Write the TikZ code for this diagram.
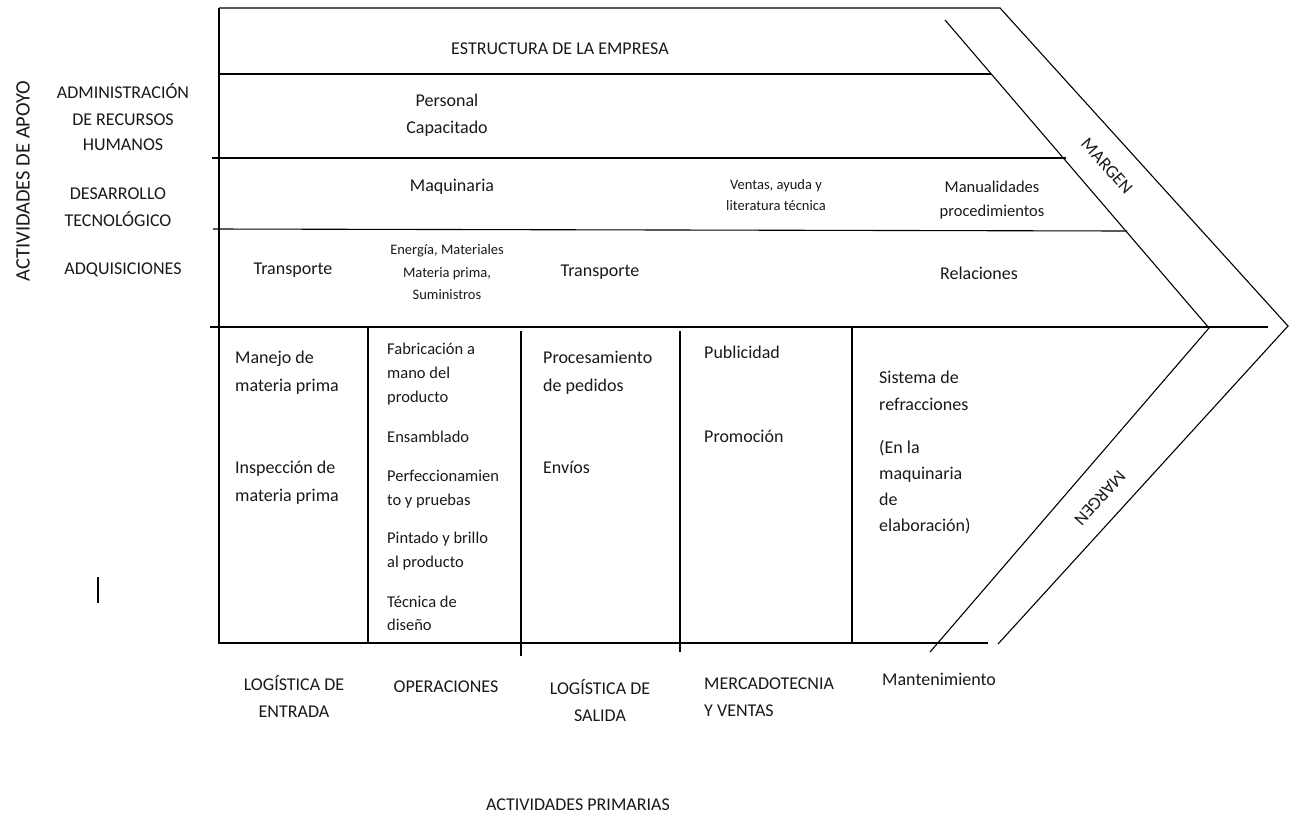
\documentclass[tikz,border=0pt]{standalone}
\usepackage{fontspec}
\setmainfont{Carlito}
\begin{document}
\begin{tikzpicture}[x=1pt,y=-1pt,
  ln/.style={line width=1.1pt,black},
  thk/.style={line width=2.6pt,black},
  t/.style={inner sep=0pt,anchor=base,font=\fontsize{18}{20}\selectfont,text=black!90},
  tl/.style={t,anchor=base west},
  tm/.style={inner sep=0pt,anchor=base west,font=\fontsize{16.5}{18}\selectfont,text=black!90},
  ts/.style={inner sep=0pt,anchor=base,font=\fontsize{14.5}{16}\selectfont,text=black!90},
  tsm/.style={inner sep=0pt,anchor=base,font=\fontsize{16.5}{18}\selectfont,text=black!90}]
\useasboundingbox (0,0) rectangle (1292,817);
% frame coordinates
\coordinate (tl) at (219,8);
\coordinate (tr) at (1000,8);
\coordinate (tip) at (1288,326);
\coordinate (br) at (998,644);
\coordinate (bl) at (219,643);
\coordinate (be) at (988,643);
\coordinate (ia) at (945,20);
\coordinate (itip) at (1209,328);
\coordinate (ib) at (930,652);
% outline
\draw[ln] (tl) -- (tr) -- (tip) -- (br);
\draw[ln] (tl) -- (bl) -- (be);
\draw[ln] (ia) -- (itip) -- (ib);
% support rows
\draw[ln] (219,74) -- (991,74);
\draw[ln] (212,158) -- (1066,158);
\draw[ln] (213,229) -- (1127,231);
\draw[thk] (210,327) -- (1268,327);
% primary columns
\draw[ln] (368,327) -- (368,643);
\draw[ln] (521,331) -- (521,656);
\draw[ln] (680,331) -- (680,652);
\draw[ln] (852,327) -- (852,643);
% small bar
\draw[ln] (98,577) -- (98,603);

% left labels
\node[t,rotate=90,font=\fontsize{20.5}{22}\selectfont,anchor=center] (apoyo) at (23,181) {ACTIVIDADES DE APOYO};
\node[t] (adm1) at (123,98) {ADMINISTRACIÓN};
\node[t] (adm2) at (123,125) {DE RECURSOS};
\node[t] (adm3) at (123,150) {HUMANOS};
\node[t] (des1) at (118,199) {DESARROLLO};
\node[t] (des2) at (118,226) {TECNOLÓGICO};
\node[t] (adq) at (123,274) {ADQUISICIONES};

% support texts
\node[t] (estr) at (560,54) {ESTRUCTURA DE LA EMPRESA};
\node[t] (pers1) at (447,106) {Personal};
\node[t] (pers2) at (447,133) {Capacitado};
\node[t] (maq) at (452,191) {Maquinaria};
\node[ts] (ven1) at (776,189) {Ventas, ayuda y};
\node[ts] (ven2) at (776,210) {literatura técnica};
\node[tsm] (man1) at (992,192) {Manualidades};
\node[tsm] (man2) at (992,216) {procedimientos};
\node[t] (tra1) at (293,274) {Transporte};
\node[ts] (ene1) at (447,254) {Energía, Materiales};
\node[ts] (ene2) at (447,277) {Materia prima,};
\node[ts] (ene3) at (447,299) {Suministros};
\node[t] (tra2) at (600,276) {Transporte};
\node[t] (rel) at (979,279) {Relaciones};

% margin labels
\node[t,anchor=center,rotate=-48] (marg1) at (1107,166) {MARGEN};
\node[t,anchor=center,rotate=228] (marg2) at (1100,498) {MARGEN};

% column 1
\node[tl] (c1a) at (235,363) {Manejo de};
\node[tl] (c1b) at (235,391) {materia prima};
\node[tl] (c1c) at (235,473) {Inspección de};
\node[tl] (c1d) at (235,501) {materia prima};
% column 2
\node[tm] (c2a) at (387,354) {Fabricación a};
\node[tm] (c2b) at (387,378) {mano del};
\node[tm] (c2c) at (387,402) {producto};
\node[tm] (c2d) at (387,442) {Ensamblado};
\node[tm] (c2e) at (387,481) {Perfeccionamien};
\node[tm] (c2f) at (387,505) {to y pruebas};
\node[tm] (c2g) at (387,543) {Pintado y brillo};
\node[tm] (c2h) at (387,567) {al producto};
\node[tm] (c2i) at (387,607) {Técnica de};
\node[tm] (c2j) at (387,630) {diseño};
% column 3
\node[tl] (c3a) at (543,363) {Procesamiento};
\node[tl] (c3b) at (543,391) {de pedidos};
\node[tl] (c3c) at (543,473) {Envíos};
% column 4
\node[tl] (c4a) at (704,358) {Publicidad};
\node[tl] (c4b) at (704,442) {Promoción};
% column 5
\node[tl] (c5a) at (879,383) {Sistema de};
\node[tl] (c5b) at (879,410) {refracciones};
\node[tl] (c5c) at (879,453) {(En la};
\node[tl] (c5d) at (879,479) {maquinaria};
\node[tl] (c5e) at (879,505) {de};
\node[tl] (c5f) at (879,531) {elaboración)};

% primary labels
\node[t] (le1) at (294,690) {LOGÍSTICA DE};
\node[t] (le2) at (294,717) {ENTRADA};
\node[t] (op) at (446,692) {OPERACIONES};
\node[t] (ls1) at (600,694) {LOGÍSTICA DE};
\node[t] (ls2) at (600,721) {SALIDA};
\node[tl] (mv1) at (704,689) {MERCADOTECNIA};
\node[tl] (mv2) at (704,716) {Y VENTAS};
\node[tl] (mant) at (882,685) {Mantenimiento};
\node[t] (prim) at (578,810) {ACTIVIDADES PRIMARIAS};
\end{tikzpicture}
\end{document}
